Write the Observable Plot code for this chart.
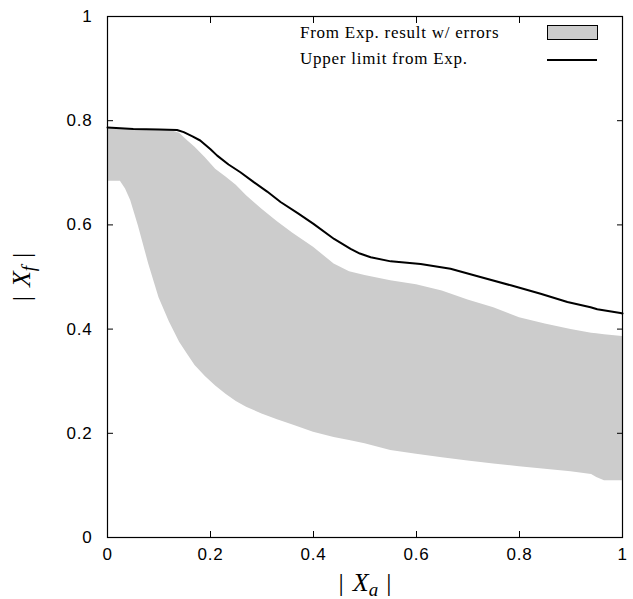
<!DOCTYPE html>
<html>
<head>
<meta charset="utf-8">
<script src="https://cdn.jsdelivr.net/npm/d3@7"></script>
<script src="https://cdn.jsdelivr.net/npm/@observablehq/plot@0.6"></script>
<style>
  html, body { margin: 0; padding: 0; background: #fff; }
  #wrap { position: relative; width: 633px; height: 599px; }
  #legend { position: absolute; left: 0; top: 0; width: 633px; height: 80px; pointer-events: none;
            font-family: "Liberation Serif", "Times New Roman", serif; font-size: 17px; letter-spacing: 0.75px; color: #000; }
  .lg-text { position: absolute; left: 300px; line-height: 1; white-space: nowrap; }
  .lg-rect { position: absolute; left: 547px; top: 25px; width: 49px; height: 13px; background: #cccccc; border: 1px solid #000; }
  .lg-line { position: absolute; left: 547px; top: 59px; width: 50px; height: 2px; background: #000; }
</style>
</head>
<body>
<div id="wrap">
  <div id="chart"></div>
  <div id="legend">
    <div class="lg-text" id="lg1" style="top:24px"></div>
    <div class="lg-rect"></div>
    <div class="lg-text" id="lg2" style="top:50px"></div>
    <div class="lg-line"></div>
  </div>
</div>
<script>
// ---- data ----
const legendLabels = ["From Exp. result w/ errors", "Upper limit from Exp."];
const xTicks = [0, 0.2, 0.4, 0.6, 0.8, 1];
const yTicks = [0, 0.2, 0.4, 0.6, 0.8, 1];
const tickLabels = ["0", "0.2", "0.4", "0.6", "0.8", "1"];

// band (experimental result with errors)
const bandX    = [0, 0.025, 0.035, 0.045, 0.06, 0.08, 0.1, 0.12, 0.14, 0.155, 0.17, 0.19, 0.21, 0.23, 0.25, 0.27, 0.3, 0.33, 0.36, 0.4, 0.44, 0.47, 0.5, 0.55, 0.6, 0.65, 0.7, 0.75, 0.8, 0.85, 0.9, 0.94, 0.95, 0.965, 1.0];
const bandHigh = [0.785, 0.785, 0.785, 0.784, 0.784, 0.783, 0.783, 0.782, 0.776, 0.762, 0.749, 0.729, 0.707, 0.692, 0.676, 0.656, 0.63, 0.606, 0.584, 0.557, 0.525, 0.51, 0.503, 0.493, 0.485, 0.473, 0.456, 0.441, 0.422, 0.41, 0.399, 0.392, 0.391, 0.389, 0.386];
const bandLow  = [0.684, 0.684, 0.669, 0.647, 0.598, 0.525, 0.46, 0.414, 0.375, 0.352, 0.33, 0.309, 0.291, 0.275, 0.261, 0.25, 0.237, 0.226, 0.216, 0.202, 0.192, 0.186, 0.18, 0.167, 0.16, 0.153, 0.147, 0.141, 0.136, 0.131, 0.126, 0.121, 0.115, 0.109, 0.109];

// upper limit line
const upperX = [0, 0.05, 0.1, 0.135, 0.148, 0.165, 0.18, 0.2, 0.213, 0.235, 0.258, 0.284, 0.31, 0.336, 0.37, 0.4, 0.44, 0.472, 0.49, 0.511, 0.55, 0.608, 0.666, 0.724, 0.783, 0.841, 0.893, 0.938, 0.951, 0.996, 1.0];
const upperY = [0.787, 0.784, 0.783, 0.782, 0.778, 0.770, 0.762, 0.745, 0.733, 0.716, 0.701, 0.682, 0.664, 0.644, 0.622, 0.602, 0.573, 0.554, 0.545, 0.538, 0.530, 0.525, 0.516, 0.50, 0.484, 0.468, 0.452, 0.442, 0.438, 0.431, 0.430];

// ---- tables ----
const band = bandX.map((x, i) => ({x, lo: bandLow[i], hi: bandHigh[i]}));
const upper = upperX.map((x, i) => ({x, y: upperY[i]}));
const fmt = d => tickLabels[xTicks.indexOf(d)];
const fmtY = d => tickLabels[yTicks.indexOf(d)];

document.getElementById("lg1").textContent = legendLabels[0];
document.getElementById("lg2").textContent = legendLabels[1];

const chart = Plot.plot({
  width: 633,
  height: 599,
  marginLeft: 107,
  marginRight: 11,
  marginTop: 16,
  marginBottom: 62,
  style: {fontFamily: "'Liberation Sans', Arial, sans-serif", fontSize: "17px", letterSpacing: "0.8px", background: "#fff", color: "#000"},
  x: {domain: [0, 1]},
  y: {domain: [0, 1]},
  marks: [
    Plot.areaY(band, {x: "x", y1: "lo", y2: "hi", fill: "#cccccc"}),
    Plot.line(upper, {x: "x", y: "y", stroke: "#000", strokeWidth: 2}),
    Plot.frame({stroke: "#000", strokeWidth: 1.2}),
    Plot.axisX({anchor: "bottom", ticks: xTicks, tickSize: -6, tickPadding: 16, tickFormat: fmt, label: null}),
    Plot.axisX({anchor: "top", ticks: xTicks, tickSize: -6, tickFormat: () => "", label: null}),
    Plot.axisY({anchor: "left", ticks: yTicks, tickSize: -6, tickPadding: 21, tickFormat: fmtY, label: null}),
    Plot.axisY({anchor: "right", ticks: yTicks, tickSize: -6, tickFormat: () => "", label: null}),
    Plot.text(["|Xa|"], {frameAnchor: "bottom", dy: 53, lineAnchor: "bottom", textAnchor: "middle", fontSize: 26, fontFamily: "'Liberation Serif', serif", className: "xlab"}),
    Plot.text(["|Xf|"], {frameAnchor: "left", dx: -78, dy: 0, rotate: -90, lineAnchor: "bottom", textAnchor: "middle", fontSize: 26, fontFamily: "'Liberation Serif', serif", className: "ylab"})
  ]
});
document.getElementById("chart").appendChild(chart);

// render the axis labels with italic X and subscripts
function mathLabel(sel, sub) {
  const t = d3.select(chart).select(sel).select("text");
  t.text("").style("letter-spacing", "0px");
  t.append("tspan").text("|");
  t.append("tspan").attr("font-style", "italic").attr("dx", "9").text("X");
  t.append("tspan").attr("font-style", "italic").attr("font-size", "19px").attr("dy", "0.28em").text(sub);
  t.append("tspan").attr("dy", "-0.2em").attr("dx", "8").attr("font-size", "26px").text("|");
}
mathLabel(".xlab", "a");
mathLabel(".ylab", "f");
</script>
</body>
</html>
